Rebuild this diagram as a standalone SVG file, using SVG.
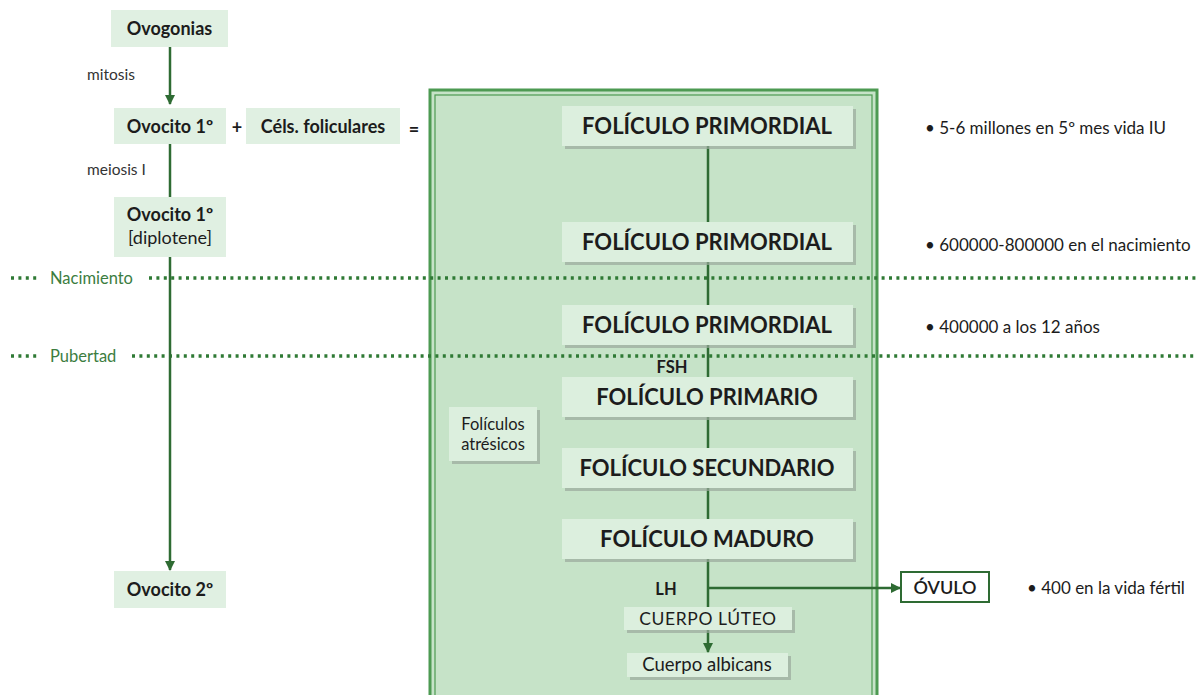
<svg xmlns="http://www.w3.org/2000/svg" width="1200" height="695" viewBox="0 0 1200 695">
<defs>
<style>
text{font-family:Lato,"Open Sans","Liberation Sans",sans-serif;fill:#1c1c1c}
.lb{fill:#e0f0e2}
.pn{fill:#dcefde}
.sh{fill:#9aa89b;opacity:.7}
.t16{font-size:18px;font-weight:700}
.big{font-size:22px;font-weight:700;text-anchor:middle}
.lab{font-size:15.5px;fill:#333}
.note{font-size:17px}
.dot{stroke:#2f7a35;stroke-width:3.5;stroke-dasharray:3 4.4;fill:none}
.con{stroke:#2e6b33;stroke-width:2.5;fill:none}
.grn{font-size:16.5px;fill:#3c7d3f}
.hl{font-size:16.5px;font-weight:700;fill:#1c1c1c;text-anchor:middle}
</style>
<marker id="ah" viewBox="0 0 10 10" refX="9" refY="5" markerWidth="4" markerHeight="4" orient="auto"><path d="M0,0 L10,5 L0,10 z" fill="#2e6b33"/></marker>
</defs>
<rect width="1200" height="695" fill="#fff"/>

<g id="panel">
<rect x="430" y="90" width="447" height="610" fill="#c6e3c8" stroke="#4d9a52" stroke-width="3"/>
<rect x="435" y="95" width="437" height="605" fill="none" stroke="#4d9a52" stroke-width="1.2"/>
</g>

<g id="timeline">
<line class="dot" x1="11" y1="278" x2="40" y2="278"/>
<text x="50" y="284" class="grn">Nacimiento</text>
<line class="dot" x1="149" y1="278" x2="1196" y2="278"/>
<line class="dot" x1="11" y1="356" x2="40" y2="356"/>
<text x="50" y="362" class="grn">Pubertad</text>
<line class="dot" x1="132" y1="356" x2="1196" y2="356"/>
</g>

<g id="connectors">
<line class="con" x1="170" y1="47" x2="170" y2="104" marker-end="url(#ah)"/>
<line class="con" x1="170" y1="144" x2="170" y2="197"/>
<line class="con" x1="170" y1="257" x2="170" y2="570" marker-end="url(#ah)"/>
<line class="con" x1="708" y1="146" x2="708" y2="652" marker-end="url(#ah)"/>
<line class="con" x1="708" y1="588" x2="900" y2="588" marker-end="url(#ah)"/>
</g>

<g id="ovogonias"><rect class="lb" x="111" y="10" width="117" height="37"/><text x="169.5" y="35" class="t16" text-anchor="middle">Ovogonias</text></g>
<text x="87" y="80" class="lab">mitosis</text>
<g id="ovocito1"><rect class="lb" x="114" y="108" width="112" height="36"/><text x="170" y="133" class="t16" text-anchor="middle">Ovocito 1º</text></g>
<text x="237" y="134" class="t16" text-anchor="middle">+</text>
<g id="cels"><rect class="lb" x="246" y="108" width="154" height="36"/><text x="323" y="133" class="t16" text-anchor="middle">Céls. foliculares</text></g>
<text x="414" y="136" class="t16" text-anchor="middle">=</text>
<text x="87" y="175" class="lab">meiosis I</text>
<g id="ovocito1d"><rect class="lb" x="114" y="197" width="112" height="60"/><text x="170" y="221" class="t16" text-anchor="middle">Ovocito 1º</text><text x="170" y="244" class="t16" text-anchor="middle" style="font-weight:400">[diplotene]</text></g>
<g id="ovocito2"><rect class="lb" x="114" y="571" width="112" height="37"/><text x="170" y="596" class="t16" text-anchor="middle">Ovocito 2º</text></g>

<g id="prim1"><rect class="sh" x="565" y="109" width="291" height="40"/><rect class="pn" x="562" y="106" width="291" height="40"/><text x="707" y="134" class="big">FOLÍCULO PRIMORDIAL</text></g>
<g id="prim2"><rect class="sh" x="565" y="225" width="291" height="40"/><rect class="pn" x="562" y="222" width="291" height="40"/><text x="707" y="250" class="big">FOLÍCULO PRIMORDIAL</text></g>
<g id="prim3"><rect class="sh" x="565" y="308" width="291" height="40"/><rect class="pn" x="562" y="305" width="291" height="40"/><text x="707" y="333" class="big">FOLÍCULO PRIMORDIAL</text></g>
<text x="672" y="373" class="hl">FSH</text>
<g id="primario"><rect class="sh" x="565" y="380" width="291" height="40"/><rect class="pn" x="562" y="377" width="291" height="40"/><text x="707" y="405" class="big">FOLÍCULO PRIMARIO</text></g>
<g id="atresicos"><rect class="sh" x="452" y="410" width="88" height="54"/><rect class="pn" x="449" y="407" width="88" height="54"/><text x="493" y="430" text-anchor="middle" style="font-size:16.5px">Folículos</text><text x="493" y="450" text-anchor="middle" style="font-size:16.5px">atrésicos</text></g>
<g id="secundario"><rect class="sh" x="565" y="451" width="291" height="40"/><rect class="pn" x="562" y="448" width="291" height="40"/><text x="707" y="476" class="big">FOLÍCULO SECUNDARIO</text></g>
<g id="maduro"><rect class="sh" x="565" y="522" width="291" height="40"/><rect class="pn" x="562" y="519" width="291" height="40"/><text x="707" y="547" class="big">FOLÍCULO MADURO</text></g>
<text x="666" y="595" class="hl">LH</text>
<g id="luteo"><rect class="sh" x="627" y="610" width="168" height="23"/><rect class="pn" x="624" y="607" width="168" height="23"/><text x="708" y="625" text-anchor="middle" style="font-size:17.5px;letter-spacing:0.6px">CUERPO LÚTEO</text></g>
<g id="albicans"><rect class="sh" x="630" y="656" width="161" height="24"/><rect class="pn" x="627" y="653" width="161" height="24"/><text x="707" y="671" text-anchor="middle" style="font-size:18.5px">Cuerpo albicans</text></g>
<g id="ovulo"><rect x="901" y="572" width="88" height="30" fill="#fff" stroke="#2e6b33" stroke-width="2"/><text x="945" y="594" text-anchor="middle" style="font-size:18px;font-weight:600">ÓVULO</text></g>

<g id="notes">
<text x="925" y="134" class="note">• 5-6 millones en 5º mes vida IU</text>
<text x="925" y="251" class="note">• 600000-800000 en el nacimiento</text>
<text x="925" y="333" class="note">• 400000 a los 12 años</text>
<text x="1027" y="594" class="note">• 400 en la vida fértil</text>
</g>
</svg>
